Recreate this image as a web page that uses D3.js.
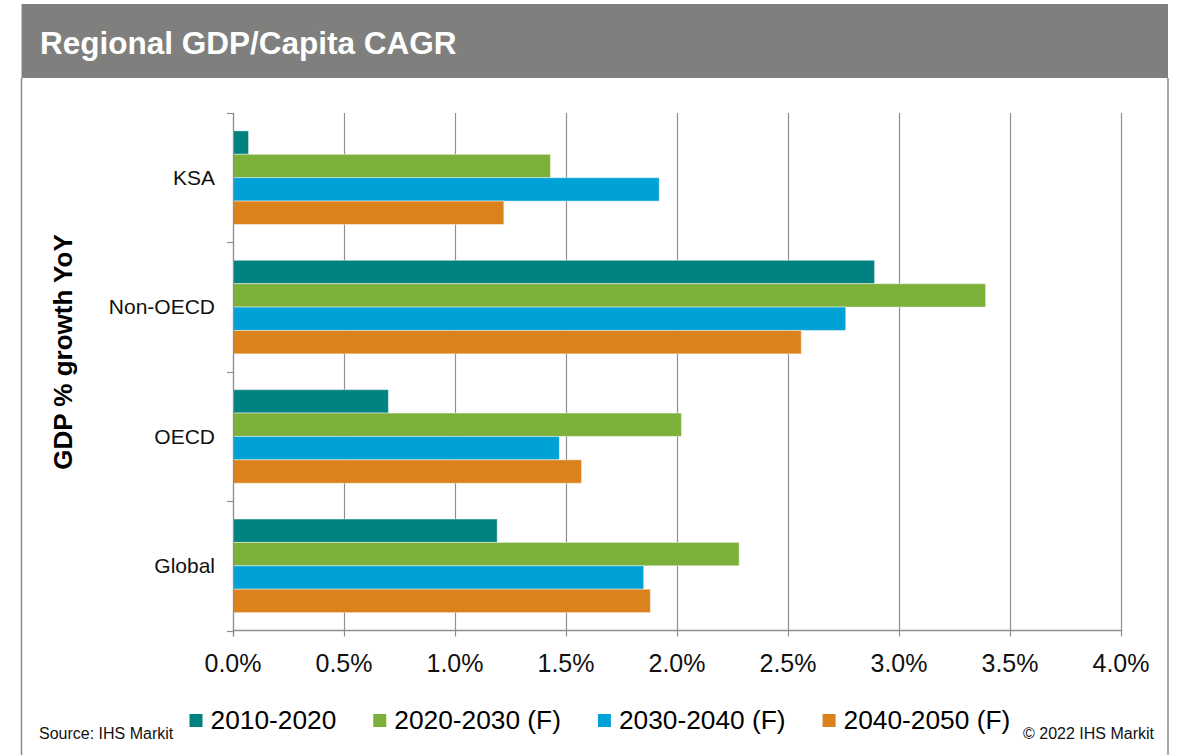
<!DOCTYPE html>
<html>
<head>
<meta charset="utf-8">
<script src="https://cdn.jsdelivr.net/npm/d3@7"></script>
<style>
  html, body { margin: 0; padding: 0; background: #fff; }
  svg { display: block; font-family: "Liberation Sans", Arial, sans-serif; }
</style>
</head>
<body>
<svg id="chart" width="1178" height="755"></svg>
<script>
// ---- Data ----
const title = "Regional GDP/Capita CAGR";
const yAxisTitle = "GDP % growth YoY";
const categories = ["KSA", "Non-OECD", "OECD", "Global"];
const seriesNames = ["2010-2020", "2020-2030 (F)", "2030-2040 (F)", "2040-2050 (F)"];
const s2010_2020 = [0.07, 2.89, 0.70, 1.19];
const s2020_2030 = [1.43, 3.39, 2.02, 2.28];
const s2030_2040 = [1.92, 2.76, 1.47, 1.85];
const s2040_2050 = [1.22, 2.56, 1.57, 1.88];
const seriesValues = [s2010_2020, s2020_2030, s2030_2040, s2040_2050];
const xTicks = [0, 0.5, 1.0, 1.5, 2.0, 2.5, 3.0, 3.5, 4.0];
const sourceText = "Source: IHS Markit";
const copyrightText = "\u00A9 2022 IHS Markit";

// ---- Styles ----
const colors = ["#008280", "#7db03a", "#00a1d5", "#dc821c"];
const gridColor = "#8f8f8f";

const svg = d3.select("#chart");

// Frame and title bar
const frameLeft = 21.5, frameRight = 1168;
svg.append("rect").attr("x", frameLeft).attr("y", 4).attr("width", frameRight - frameLeft).attr("height", 74)
  .attr("fill", "#7f807e");
svg.append("line").attr("x1", frameLeft).attr("x2", frameLeft).attr("y1", 78).attr("y2", 755)
  .attr("stroke", "#8a8a8a").attr("stroke-width", 1.5);
svg.append("line").attr("x1", frameRight).attr("x2", frameRight).attr("y1", 78).attr("y2", 755)
  .attr("stroke", "#8a8a8a").attr("stroke-width", 1.5);
svg.append("text").attr("x", 40).attr("y", 54).attr("fill", "#fff")
  .attr("font-weight", "bold").attr("font-size", 31.5).text(title);

// Plot area
const plot = { left: 233, right: 1121, top: 113, bottom: 630.5 };
const x = d3.scaleLinear().domain([0, 4]).range([plot.left, plot.right]);
const y = d3.scaleBand().domain(categories).range([plot.top, plot.bottom]).paddingInner(0).paddingOuter(0);
const ySub = d3.scaleBand().domain(seriesNames).range([0, y.bandwidth()]).paddingInner(0).paddingOuter(0.765);

// vertical gridlines
svg.append("g").selectAll("line").data(xTicks).join("line")
  .attr("x1", d => Math.round(x(d)) + 0.5).attr("x2", d => Math.round(x(d)) + 0.5)
  .attr("y1", plot.top).attr("y2", plot.bottom + 6)
  .attr("stroke", gridColor).attr("stroke-width", 1.2);

// bars
const barData = [];
categories.forEach((c, ci) => {
  seriesNames.forEach((s, si) => {
    barData.push({ cat: c, series: s, si, value: seriesValues[si][ci] });
  });
});
svg.append("g").selectAll("rect").data(barData).join("rect")
  .attr("x", x(0))
  .attr("y", d => y(d.cat) + ySub(d.series))
  .attr("width", d => x(d.value) - x(0))
  .attr("height", ySub.bandwidth())
  .attr("fill", d => colors[d.si])
  .attr("stroke", "rgba(255,255,255,0.45)").attr("stroke-width", 1);

// left axis line and category ticks
svg.append("line").attr("x1", plot.left + 0.5).attr("x2", plot.left + 0.5)
  .attr("y1", plot.top).attr("y2", plot.bottom + 6)
  .attr("stroke", gridColor).attr("stroke-width", 1.2);
const catBounds = categories.map(c => y(c)).concat([plot.bottom]);
svg.append("g").selectAll("line").data(catBounds).join("line")
  .attr("x1", plot.left - 6).attr("x2", plot.left)
  .attr("y1", d => Math.round(d) + 0.5).attr("y2", d => Math.round(d) + 0.5)
  .attr("stroke", gridColor).attr("stroke-width", 1.2);
// bottom axis line
svg.append("line").attr("x1", plot.left).attr("x2", plot.right + 1)
  .attr("y1", plot.bottom).attr("y2", plot.bottom)
  .attr("stroke", gridColor).attr("stroke-width", 1.5);

// category labels
svg.append("g").selectAll("text").data(categories).join("text")
  .attr("x", 215).attr("y", d => y(d) + y.bandwidth() / 2)
  .attr("dy", "0.35em").attr("text-anchor", "end")
  .attr("font-size", 21).attr("fill", "#111").text(d => d);

// x tick labels
svg.append("g").selectAll("text").data(xTicks).join("text")
  .attr("x", d => x(d)).attr("y", 672)
  .attr("text-anchor", "middle").attr("font-size", 25).attr("fill", "#111")
  .text(d => d3.format(".1f")(d) + "%");

// y axis title
svg.append("text")
  .attr("transform", "translate(72,352) rotate(-90)")
  .attr("text-anchor", "middle").attr("font-weight", "bold").attr("font-size", 26)
  .attr("fill", "#000").text(yAxisTitle);

// legend
const legend = svg.append("g");
let lx = 189.5;
seriesNames.forEach((s, i) => {
  legend.append("rect").attr("x", lx).attr("y", 714).attr("width", 13).attr("height", 13).attr("fill", colors[i]);
  const t = legend.append("text").attr("x", lx + 21).attr("y", 729)
    .attr("font-size", 26.3).attr("fill", "#000").text(s);
  lx = lx + 21 + t.node().getComputedTextLength() + 37;
});

// footer texts
svg.append("text").attr("x", 39).attr("y", 739).attr("font-size", 16).attr("fill", "#111").text(sourceText);
svg.append("text").attr("x", 1154).attr("y", 739).attr("text-anchor", "end")
  .attr("font-size", 16).attr("fill", "#111").text(copyrightText);
</script>
</body>
</html>
